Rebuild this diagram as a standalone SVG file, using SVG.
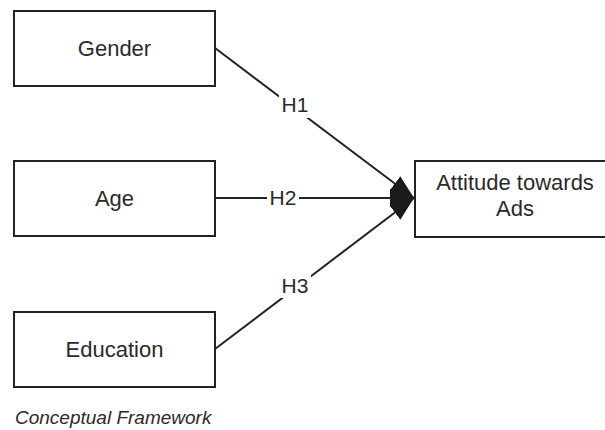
<svg xmlns="http://www.w3.org/2000/svg" width="605" height="430" viewBox="0 0 605 430">
<style>
.box{fill:#fff;stroke:#222;stroke-width:2}
.t{font-family:"Liberation Sans",Arial,sans-serif;font-size:22px;fill:#2a2a2a;text-anchor:middle}
.lab{font-family:"Liberation Sans",Arial,sans-serif;font-size:21px;fill:#2a2a2a;text-anchor:middle}
.edge{stroke:#222;stroke-width:2;fill:none;marker-end:url(#arr)}
.cap{font-family:"Liberation Sans",Arial,sans-serif;font-size:19px;font-style:italic;fill:#2a2a2a}
</style>
<defs>
<marker id="arr" viewBox="0 0 24 20" refX="24" refY="10" markerWidth="24" markerHeight="20" markerUnits="userSpaceOnUse" orient="auto">
<path d="M0,1 L24,10 L0,19 Z" fill="#1a1a1a"/>
</marker>
</defs>
<rect width="605" height="430" fill="#fff"/>
<g id="connectors">
<line class="edge" x1="215" y1="48" x2="414" y2="198"/>
<line class="edge" x1="215" y1="198" x2="414" y2="198"/>
<line class="edge" x1="215" y1="349" x2="414" y2="198"/>
<rect x="279" y="94" width="32" height="24" fill="#fff"/>
<text class="lab" x="295" y="112">H1</text>
<rect x="267" y="186" width="32" height="24" fill="#fff"/>
<text class="lab" x="283" y="205">H2</text>
<rect x="279" y="274" width="32" height="24" fill="#fff"/>
<text class="lab" x="295" y="293">H3</text>
</g>
<g id="gender">
<rect class="box" x="14" y="11" width="201" height="75"/>
<text class="t" x="114.5" y="56">Gender</text>
</g>
<g id="age">
<rect class="box" x="14" y="161" width="201" height="75"/>
<text class="t" x="114.5" y="206">Age</text>
</g>
<g id="education">
<rect class="box" x="14" y="312" width="201" height="75"/>
<text class="t" x="114.5" y="357">Education</text>
</g>
<g id="attitude">
<rect class="box" x="415" y="161" width="200" height="76"/>
<text class="t" x="515" y="190">Attitude towards</text>
<text class="t" x="515" y="216">Ads</text>
</g>
<g id="caption">
<text class="cap" x="15" y="424">Conceptual Framework</text>
</g>
</svg>
